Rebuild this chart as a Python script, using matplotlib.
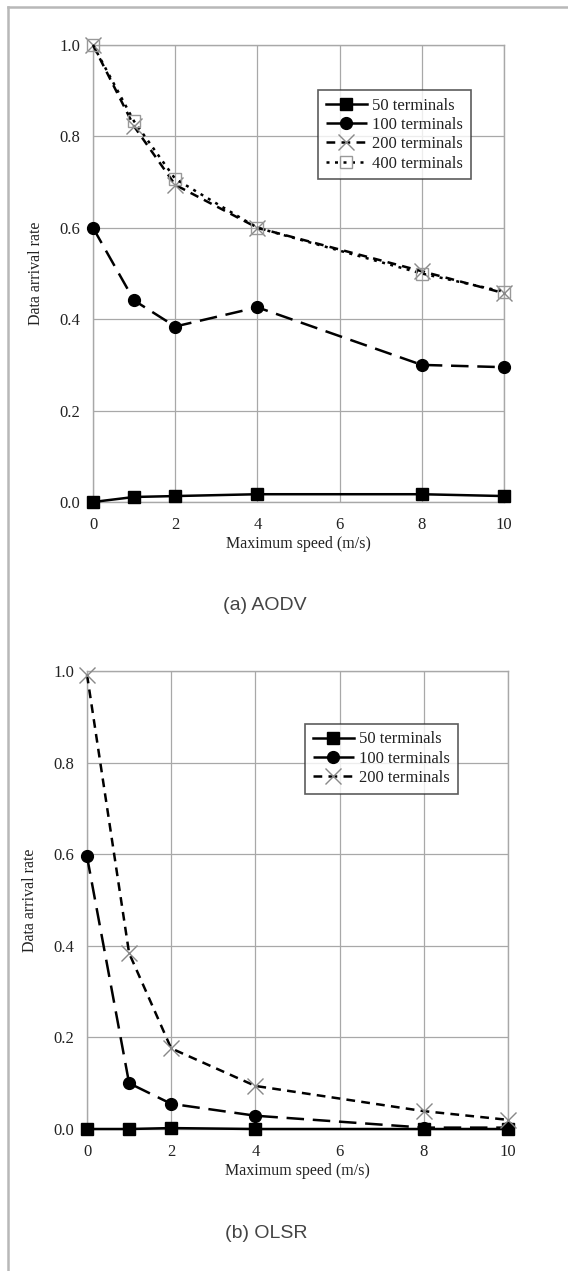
import matplotlib
matplotlib.use("Agg")
import matplotlib.pyplot as plt
from matplotlib.lines import Line2D

speeds = [0, 1, 2, 4, 8, 10]
x_ticks = [0, 2, 4, 6, 8, 10]
y_ticks = [0.0, 0.2, 0.4, 0.6, 0.8, 1.0]

aodv_50 = [0.0, 0.011, 0.013, 0.017, 0.017, 0.013]
aodv_100 = [0.600, 0.441, 0.384, 0.426, 0.300, 0.295]
aodv_200 = [1.0, 0.822, 0.694, 0.600, 0.505, 0.457]
aodv_400 = [1.0, 0.833, 0.707, 0.600, 0.500, 0.460]

olsr_50 = [0.0, 0.0, 0.002, 0.0, 0.0, 0.0]
olsr_100 = [0.595, 0.100, 0.055, 0.029, 0.003, 0.003]
olsr_200 = [0.992, 0.384, 0.176, 0.094, 0.039, 0.020]

labels = ["50 terminals", "100 terminals", "200 terminals", "400 terminals"]
captions = ["(a) AODV", "(b) OLSR"]
xlabel = "Maximum speed (m/s)"
ylabel = "Data arrival rate"

W, H = 568, 1271
fig = plt.figure(figsize=(W / 100, H / 100), dpi=100)
fig.patch.set_facecolor("white")

serif = ["Liberation Serif", "DejaVu Serif"]
GRID = "#a8a8a8"
TXT = "#222222"

styles = [
    dict(color="black", lw=1.8, ls="-", marker="s", ms=8.5, mfc="black", mec="black"),
    dict(color="black", lw=1.8, ls=(0, (7, 3.5)), marker="o", ms=8.5, mfc="black", mec="black"),
    dict(color="black", lw=1.8, ls=(0, (3.5, 2.5)), marker="x", ms=11, mew=1.0, mec="#888888"),
    dict(color="black", lw=1.8, ls=(0, (1.2, 2.2)), marker="s", ms=9, mfc="none", mec="#999999", mew=1.0),
]


def make_axes(rect, series, legpos):
    ax = fig.add_axes(rect)
    for i, ys in enumerate(series):
        ax.plot(speeds, ys, label=labels[i], clip_on=False, zorder=3 + i, **styles[i])
    ax.set_xlim(0, 10)
    ax.set_ylim(0, 1.0)
    ax.set_xticks(x_ticks)
    ax.set_yticks(y_ticks)
    ax.set_xticklabels([str(v) for v in x_ticks], fontfamily=serif, fontsize=12, color=TXT)
    ax.set_yticklabels([f"{v:.1f}" for v in y_ticks], fontfamily=serif, fontsize=12, color=TXT)
    ax.tick_params(axis="x", length=0, pad=11)
    ax.tick_params(axis="y", length=0, pad=9)
    ax.grid(True, color=GRID, lw=0.9)
    for s in ax.spines.values():
        s.set_color(GRID)
        s.set_linewidth(1.0)
    ax.set_xlabel(xlabel, fontfamily=serif, fontsize=11.5, labelpad=2, color=TXT)
    ax.set_ylabel(ylabel, fontfamily=serif, fontsize=11.5, labelpad=11, color=TXT)
    leg = ax.legend(loc="upper left", bbox_to_anchor=legpos, bbox_transform=fig.transFigure,
                    prop={"family": serif, "size": 12}, frameon=True, fancybox=False,
                    handlelength=2.5, handletextpad=0.3, borderpad=0.45, labelspacing=0.2,
                    borderaxespad=0)
    leg.get_frame().set_edgecolor("#333333")
    leg.get_frame().set_linewidth(1.2)
    for t in leg.get_texts():
        t.set_color(TXT)
    return ax


def fx(px):
    return px / W


def fy(py):
    return 1 - py / H


# top axes: x 93-504, y 45-502
ax1 = make_axes([fx(93), fy(502), fx(504 - 93), (502 - 45) / H],
                [aodv_50, aodv_100, aodv_200, aodv_400], (fx(318), fy(90)))
# bottom axes: x 87-508, y 671-1129
ax2 = make_axes([fx(87), fy(1129), fx(508 - 87), (1129 - 671) / H],
                [olsr_50, olsr_100, olsr_200], (fx(305), fy(724)))

fig.text(fx(265), fy(605), captions[0], ha="center", va="center",
         fontfamily=["Liberation Sans", "DejaVu Sans"], fontsize=14, color="#444444")
fig.text(fx(266), fy(1233), captions[1], ha="center", va="center",
         fontfamily=["Liberation Sans", "DejaVu Sans"], fontsize=14, color="#444444")

# page frame lines
fig.add_artist(Line2D([fx(8), fx(8)], [fy(7), 0], transform=fig.transFigure, color="#b8b8b8", lw=1.8))
fig.add_artist(Line2D([fx(8), 1], [fy(7), fy(7)], transform=fig.transFigure, color="#b8b8b8", lw=1.8))

fig.savefig("out.png", dpi=100, facecolor="white")
